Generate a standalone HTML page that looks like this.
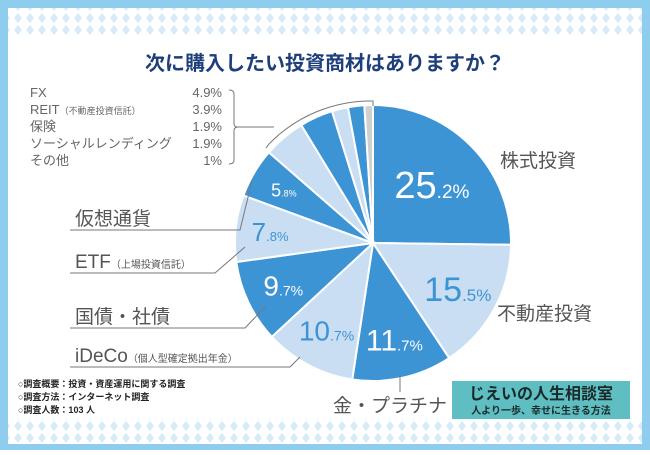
<!DOCTYPE html>
<html><head><meta charset="utf-8"><style>
body{margin:0;width:650px;height:450px;overflow:hidden;font-family:"Liberation Sans","Noto Sans CJK JP",sans-serif}
</style></head><body>
<svg width="650" height="450" xmlns="http://www.w3.org/2000/svg">
<defs>
<pattern id="dia" width="12" height="12" patternUnits="userSpaceOnUse">
<rect width="12" height="12" fill="#ffffff"/>
<path d="M6 1 L10 6 L6 11 L2 6Z" fill="#d8ebf8"/>
</pattern>
</defs>
<rect width="650" height="450" fill="#8fcdee"/>
<rect x="8" y="8" width="634" height="436" fill="#fff"/>
<rect x="8" y="8" width="634" height="27" fill="url(#dia)"/>
<rect x="8" y="418" width="634" height="26" fill="url(#dia)"/>
<text x="325" y="70" text-anchor="middle" font-size="20" font-weight="bold" fill="#1f3f7a">次に購入したい投資商材はありますか？</text>
<g id="pie"></g>
<g id="labels"></g>
<g font-size="13" fill="#666">
<text x="30" y="97">FX</text><text x="222" y="97" text-anchor="end">4.9%</text>
<text x="30" y="114">REIT<tspan font-size="9">（不動産投資信託）</tspan></text><text x="222" y="114" text-anchor="end">3.9%</text>
<text x="30" y="131">保険</text><text x="222" y="131" text-anchor="end">1.9%</text>
<text x="30" y="148">ソーシャルレンディング</text><text x="222" y="148" text-anchor="end">1.9%</text>
<text x="30" y="165">その他</text><text x="222" y="165" text-anchor="end">1%</text>
</g>
<path d="M229 90 Q234 90 234 94 L234 124 Q234 127 238 127 L274 127 M238 127 Q234 127 234 131 L234 160 Q234 164 229 164" fill="none" stroke="#777" stroke-width="1"/>
<path d="M266 148 L269 144 A142 142 0 0 1 373 101 L373 106" fill="none" stroke="#777" stroke-width="1"/>
<g font-size="9" fill="#222" font-weight="bold">
<text x="18" y="387">○調査概要：投資・資産運用に関する調査</text>
<text x="18" y="400">○調査方法：インターネット調査</text>
<text x="18" y="413">○調査人数：103 人</text>
</g>
<rect x="452" y="381" width="178" height="38" fill="#5fbec2"/>
<text x="541" y="399" text-anchor="middle" font-size="16" font-weight="bold" fill="#1a2a2a">じえいの人生相談室</text>
<text x="541" y="414" text-anchor="middle" font-size="10" font-weight="bold" fill="#1a2a2a">人より一歩、幸せに生きる方法</text>
<script>
const categories=["株式投資","不動産投資","金・プラチナ","iDeCo","国債・社債","ETF","仮想通貨","FX","REIT","保険","ソーシャルレンディング","その他"];
const values=[25.2,15.5,11.7,10.7,9.7,7.8,5.8,4.9,3.9,1.9,1.9,1];
const colors=["#3d94d4","#c9def2","#3d94d4","#c9def2","#3d94d4","#c9def2","#3d94d4","#c9def2","#3d94d4","#c9def2","#3d94d4","#d0d0d0"];
const cx=373,cy=243,R=138,NS="http://www.w3.org/2000/svg";
const total=values.reduce((a,b)=>a+b,0);
function pt(a,r){return [cx+r*Math.sin(a),cy-r*Math.cos(a)];}
const pie=document.getElementById('pie');
let acc=0;const mids=[];
values.forEach((v,i)=>{
 const a0=acc/total*2*Math.PI;acc+=v;const a1=acc/total*2*Math.PI;
 mids.push((a0+a1)/2);
 const p0=pt(a0,R),p1=pt(a1,R);
 const el=document.createElementNS(NS,'path');
 el.setAttribute('d',`M${cx} ${cy} L${p0[0]} ${p0[1]} A${R} ${R} 0 ${a1-a0>Math.PI?1:0} 1 ${p1[0]} ${p1[1]}Z`);
 el.setAttribute('fill',colors[i]);el.setAttribute('stroke','#fff');el.setAttribute('stroke-width','2');
 
 
 pie.appendChild(el);
});
const lab=document.getElementById('labels');
const inner=[[0.6,38],[0.7,34],[0.72,30],[0.72,28],[0.72,28],[0.75,26],[0.75,18]];
inner.forEach((s,i)=>{
 const p=pt(mids[i],R*s[0]);const v=values[i].toFixed(1).split('.');
 const t=document.createElementNS(NS,'text');
 t.setAttribute('x',p[0]);t.setAttribute('y',p[1]+s[1]*0.35);t.setAttribute('text-anchor','middle');
 t.setAttribute('fill',colors[i]=="#3d94d4"?"#fff":"#3d94d4");t.setAttribute('font-size',s[1]);
 t.appendChild(document.createTextNode(v[0]));
 const ts=document.createElementNS(NS,'tspan');
 ts.setAttribute('font-size',s[1]*0.5);
 ts.appendChild(document.createTextNode('.'+v[1]+'%'));
 t.appendChild(ts);
 
 
 lab.appendChild(t);
});
</script>
<g fill="#555" font-size="19">
<text x="500" y="167">株式投資</text>
<text x="497" y="320">不動産投資</text>
<text x="333" y="412">金・プラチナ</text>
<text x="75" y="225">仮想通貨</text>
<text x="75" y="268">ETF<tspan font-size="10">（上場投資信託）</tspan></text>
<text x="75" y="323">国債・社債</text>
<text x="75" y="362">iDeCo<tspan font-size="10">（個人型確定拠出年金）</tspan></text>
</g>
<g fill="none" stroke="#777" stroke-width="1">
<path d="M70 230 L240 230 L252 181"/>
<path d="M70 273 L215 273 L245 247"/>
<path d="M70 328 L245 328 L266 306"/>
<path d="M70 367 L290 367 L300 357"/>
<path d="M400 375 L400 392"/>
</g>
</svg>
</body></html>
